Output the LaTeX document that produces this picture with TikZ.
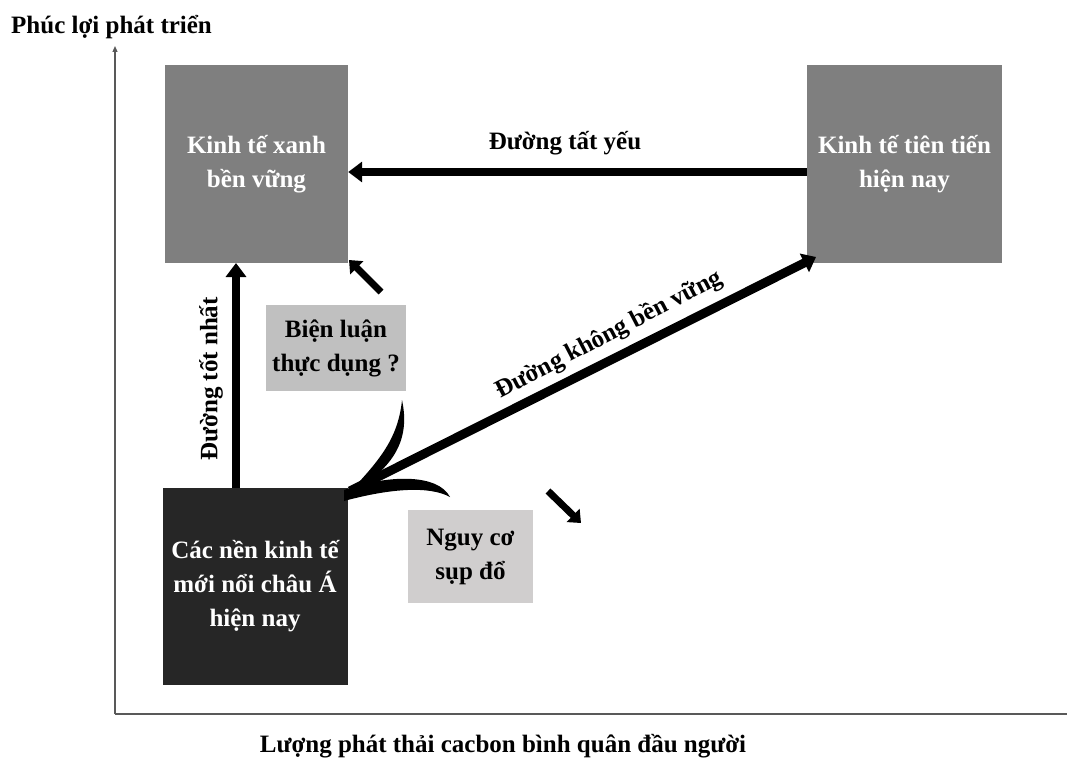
\documentclass[tikz,border=0pt]{standalone}
\usepackage{fontspec}
\setmainfont{Liberation Serif}
\usetikzlibrary{arrows.meta}
\definecolor{midgray}{HTML}{7F7F7F}
\definecolor{darkbox}{HTML}{262626}
\definecolor{lightbox}{HTML}{C0C0C0}
\definecolor{paler}{HTML}{D0CECE}
\begin{document}
\begin{tikzpicture}[x=1pt,y=-1pt,
  bigbox/.style={draw=none,inner sep=0pt,text=white,align=center,font=\fontsize{25}{34}\selectfont\bfseries},
  notebox/.style={draw=none,inner sep=0pt,text=black,align=center,font=\fontsize{25}{34}\selectfont\bfseries},
  lbl/.style={font=\fontsize{25}{28}\selectfont\bfseries,inner sep=0pt},
  thick arrow/.style={line width=8.5pt,-{Triangle[length=14pt,width=20pt]}},
  short arrow/.style={line width=7pt,-{Triangle[length=11pt,width=18pt]}},
  axis/.style={draw=gray!70!black,line width=1.2pt}]
\useasboundingbox (0,0) rectangle (1067,762);
% axes
\coordinate (O) at (115,714);
\coordinate (Ytop) at (115,46);
\coordinate (Xend) at (1067,714);
\draw[axis,-{Triangle[length=6pt,width=5pt]}] (O) -- (Ytop);
\draw[axis] (O) -- (Xend);
\node[lbl,anchor=west] (ylab) at (11,27) {Phúc lợi phát triển};
\node[lbl] (xlab) at (503,746) {Lượng phát thải cacbon bình quân đầu người};
% boxes
\node[bigbox,fill=midgray,minimum width=183pt,minimum height=198pt] (green) at (256.5,164) {Kinh tế xanh\\bền vững};
\node[bigbox,fill=midgray,minimum width=195pt,minimum height=198pt] (adv) at (904.5,164) {Kinh tế tiên tiến\\hiện nay};
\node[bigbox,fill=darkbox,minimum width=185pt,minimum height=197pt] (asia) at (255,586.5) {Các nền kinh tế\\mới nổi châu Á\\hiện nay};
\node[notebox,fill=lightbox,minimum width=140pt,minimum height=86pt] (bien) at (336,348) {Biện luận\\thực dụng ?};
\node[notebox,fill=paler,minimum width=125pt,minimum height=93pt] (nguy) at (470.5,556.5) {Nguy cơ\\sụp đổ};
% main arrows
\draw[thick arrow] (adv.west |- 0,172) -- (green.east |- 0,172);
\node[lbl] (tatyeu) at (565,143) {Đường tất yếu};
\draw[thick arrow] (236,488) -- (236,263);
\node[lbl,rotate=90] (totnhat) at (211,379) {Đường tốt nhất};
\coordinate (dstart) at (350,491);
\coordinate (dend) at (816,257);
\draw[line width=9pt,-{Triangle[length=13pt,width=20pt]}] (dstart) -- (dend);
\node[lbl,rotate=27.5] (khongbv) at (609,335) {Đường không bền vững};
% curved arrowhead strokes
\fill (346,496) .. controls (378,462) and (398,440) .. (402,400)
      .. controls (411,442) and (392,470) .. (346,496) -- cycle;
\fill (344,490) .. controls (390,474) and (438,474) .. (450,497)
      .. controls (430,486) and (392,488) .. (344,501) -- cycle;
% short arrows
\coordinate (s1a) at (381,292);
\coordinate (s1b) at (349,260);
\draw[short arrow] (s1a) -- (s1b);
\coordinate (s2a) at (548,491);
\coordinate (s2b) at (581,523);
\draw[short arrow] (s2a) -- (s2b);
\end{tikzpicture}
\end{document}
